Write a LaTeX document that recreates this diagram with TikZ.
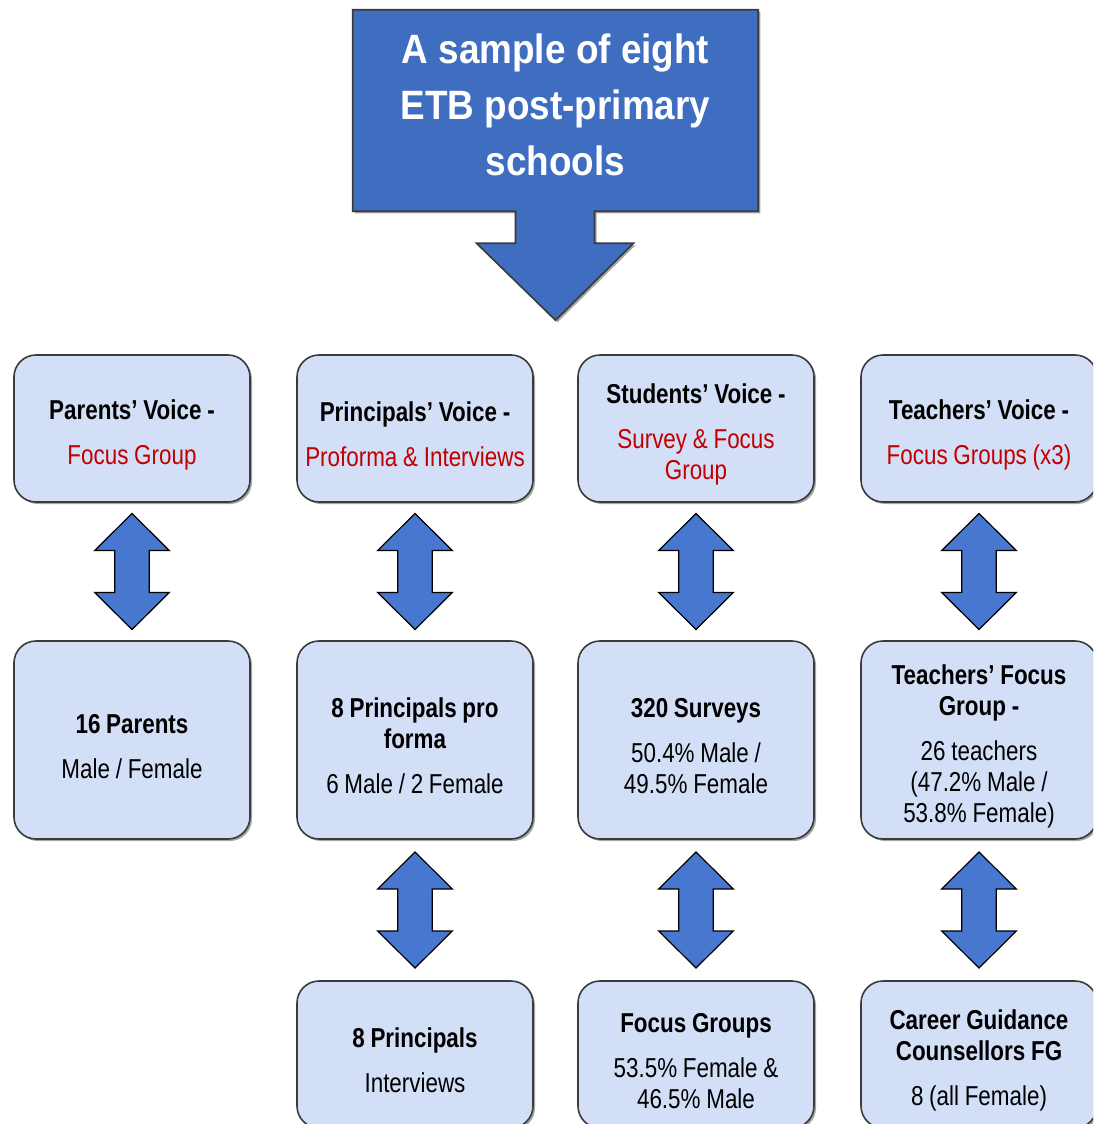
\documentclass[tikz,border=0pt]{standalone}
\usepackage{fontspec}
\setmainfont{Liberation Sans}[FakeStretch=0.82]
\newfontfamily\titlefont{Liberation Sans}[FakeStretch=0.9]
\usetikzlibrary{calc,shadows}
\pgfdeclarelayer{bg}
\pgfsetlayers{bg,main}
\definecolor{boxfill}{HTML}{D3DFF7}
\definecolor{boxline}{HTML}{3A3A3A}
\definecolor{arrfill}{HTML}{4877CF}
\definecolor{titlefill}{HTML}{3F6DBF}
\definecolor{redtxt}{HTML}{C00000}
\newcommand\rt[1]{\textcolor{redtxt}{#1}}
\newcommand\pg{\\[10.5pt]}
\newcommand\fixspaces{\spaceskip=4.3pt\relax\xspaceskip=4.3pt\relax}
\tikzset{
  infobox/.style={draw=boxline, line width=1.2pt, fill=boxfill, rounded corners=16.5pt,
    minimum width=177pt, text width=172pt, align=center, inner sep=0pt,
    font=\fontsize{20.5}{23.25}\selectfont,
    execute at begin node={\fixspaces\rule{0pt}{24pt}},
    drop shadow={shadow xshift=1.5pt, shadow yshift=-1.5pt, opacity=0.35, fill=black}},
  rowa/.style={infobox, minimum height=110.25pt},
  rowb/.style={infobox, minimum height=148.5pt},
  dblarr/.style={draw=black, line width=0.9pt, fill=arrfill, line join=miter},
  callout/.style={draw=boxline, line width=1.2pt, fill=titlefill,
    drop shadow={shadow xshift=1.5pt, shadow yshift=-1.5pt, opacity=0.35, fill=black}},
  titletext/.style={text=white, align=center, inner sep=0pt,
    minimum width=303.75pt, minimum height=150.75pt,
    execute at end node={\rule[-9pt]{0pt}{1pt}},
    font=\titlefont\bfseries\fontsize{30.75}{42}\selectfont}
}
\newcommand\dblarrow[2]{%
  \draw[dblarr] let \p1=(#1.south), \p2=(#2.north), \n1={(\y1+\y2)/2} in
  (\x1,\n1+43.5pt) -- ++(28pt,-27.75pt) -- ++(-15pt,0pt) -- (\x1+13pt,\n1-15.75pt)
  -- ++(15pt,0pt) -- (\x1,\n1-43.5pt) -- ++(-28pt,27.75pt) -- ++(15pt,0pt)
  -- (\x1-13pt,\n1+15.75pt) -- ++(-15pt,0pt) -- cycle;}
\begin{document}
\begin{tikzpicture}[x=0.75pt,y=-0.75pt]
\useasboundingbox (0,0) rectangle (1093,1124);
\clip (0,0) rectangle (1093,1124);
% title callout
\node[titletext] (title) at (555.5,110.5) {A sample of eight\\ETB post-primary\\schools};
\begin{pgfonlayer}{bg}
\draw[callout] (title.north west) -- (title.north east) -- (title.south east)
  -- ($(title.south)+(39,0)$) -- ++(0,32) -- ++(39,0) -- ($(title.south)+(0,109)$)
  -- ($(title.south)+(-79,32)$) -- ++(39,0) -- ++(0,-32) -- (title.south west) -- cycle;
\end{pgfonlayer}
% row 1
\node[rowa] (pv) at (132,428.5) {\textbf{Parents’ Voice -}\pg\rt{Focus Group}};
\node[rowa] (rv) at (415,428.5) {\textbf{Principals’ Voice -}\pg\rt{Proforma \& Interviews}};
\node[rowa] (sv) at (696,428.5) {\textbf{Students’ Voice -}\pg\rt{Survey \& Focus\\Group}};
\node[rowa] (tv) at (979,428.5) {\textbf{Teachers’ Voice -}\pg\rt{Focus Groups (x3)}};
% row 2
\node[rowb] (pn) at (132,740) {\textbf{16 Parents}\pg Male / Female};
\node[rowb] (rn) at (415,740) {\textbf{8 Principals pro\\forma}\pg 6 Male / 2 Female};
\node[rowb] (sn) at (696,740) {\textbf{320 Surveys}\pg 50.4\% Male /\\49.5\% Female};
\node[rowb] (tn) at (979,740) {\textbf{Teachers’ Focus\\Group -}\pg 26 teachers\\(47.2\% Male /\\53.8\% Female)};
% row 3
\node[rowa] (ri) at (415,1054.5) {\textbf{8 Principals}\pg Interviews};
\node[rowa] (sf) at (696,1054.5) {\textbf{Focus Groups}\pg 53.5\% Female \&\\46.5\% Male};
\node[rowa] (tc) at (979,1054.5) {\textbf{Career Guidance\\Counsellors FG}\pg 8 (all Female)};
% connectors
\dblarrow{pv}{pn}
\dblarrow{rv}{rn}
\dblarrow{sv}{sn}
\dblarrow{tv}{tn}
\dblarrow{rn}{ri}
\dblarrow{sn}{sf}
\dblarrow{tn}{tc}
\end{tikzpicture}
\end{document}
